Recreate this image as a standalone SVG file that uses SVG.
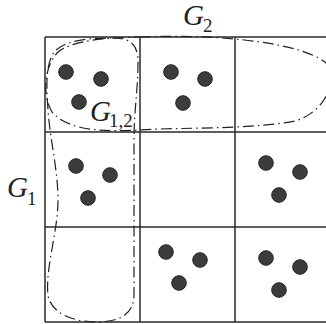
<svg xmlns="http://www.w3.org/2000/svg" width="326" height="324" viewBox="0 0 326 324">
<style>
.grid{fill:none;stroke:#2a2a2a;stroke-width:1.5}
.dot{fill:#3c3c3c;stroke:#222;stroke-width:1}
.set{fill:none;stroke:#222;stroke-width:1.2;stroke-dasharray:11 4 1.5 4}
.lbl{font-family:"Liberation Serif",serif;font-style:italic;fill:#222}
.sub{font-family:"Liberation Serif",serif;fill:#222}
</style>
<rect width="326" height="324" fill="#fff"/>
<g id="grid">
<path class="grid" d="M45,37 H330 M45,132 H330 M45,227 H330 M45,322 H330 M45,37 V322 M140,37 V322 M235,37 V322"/>
</g>
<g id="connectors">
<path id="setG2" class="set" d="M140,37 C205,34 295,40 325,62 C340,78 326,112 295,121 C245,130 185,127 140,130 C105,132 68,131 52,112 C42,95 44,66 58,52 C75,39 110,38 140,37 Z"/>
<path id="setG1" class="set" d="M112,38 C128,38 138,42 138,62 C138,90 134,110 134,140 L134,295 C134,315 118,322 97,322 C72,322 52,313 48,296 C45,268 58,232 58,200 C58,170 50,140 48,110 C46,82 46,62 55,51 C66,40 90,38 112,38 Z"/>
</g>
<g id="cell00"><circle class="dot" cx="66" cy="72" r="7.3"/><circle class="dot" cx="101" cy="79" r="7.3"/><circle class="dot" cx="79" cy="102" r="7.3"/></g>
<g id="cell01"><circle class="dot" cx="171" cy="72" r="7.3"/><circle class="dot" cx="205" cy="79" r="7.3"/><circle class="dot" cx="183" cy="103" r="7.3"/></g>
<g id="cell10"><circle class="dot" cx="76" cy="166" r="7.3"/><circle class="dot" cx="110" cy="175" r="7.3"/><circle class="dot" cx="88" cy="198" r="7.3"/></g>
<g id="cell12"><circle class="dot" cx="266" cy="163" r="7.3"/><circle class="dot" cx="300" cy="172" r="7.3"/><circle class="dot" cx="279" cy="195" r="7.3"/></g>
<g id="cell21"><circle class="dot" cx="166" cy="252" r="7.3"/><circle class="dot" cx="200" cy="260" r="7.3"/><circle class="dot" cx="179" cy="283" r="7.3"/></g>
<g id="cell22"><circle class="dot" cx="266" cy="258" r="7.3"/><circle class="dot" cx="300" cy="267" r="7.3"/><circle class="dot" cx="279" cy="290" r="7.3"/></g>
<g id="labelG2"><text class="lbl" x="183" y="25" font-size="29">G</text><text class="sub" x="203" y="32" font-size="19">2</text></g>
<g id="labelG1"><text class="lbl" x="7" y="197" font-size="29">G</text><text class="sub" x="27" y="205" font-size="19">1</text></g>
<g id="labelG12"><text class="lbl" x="90" y="121" font-size="29">G</text><text class="sub" x="109" y="127" font-size="19">1,2</text></g>
</svg>
